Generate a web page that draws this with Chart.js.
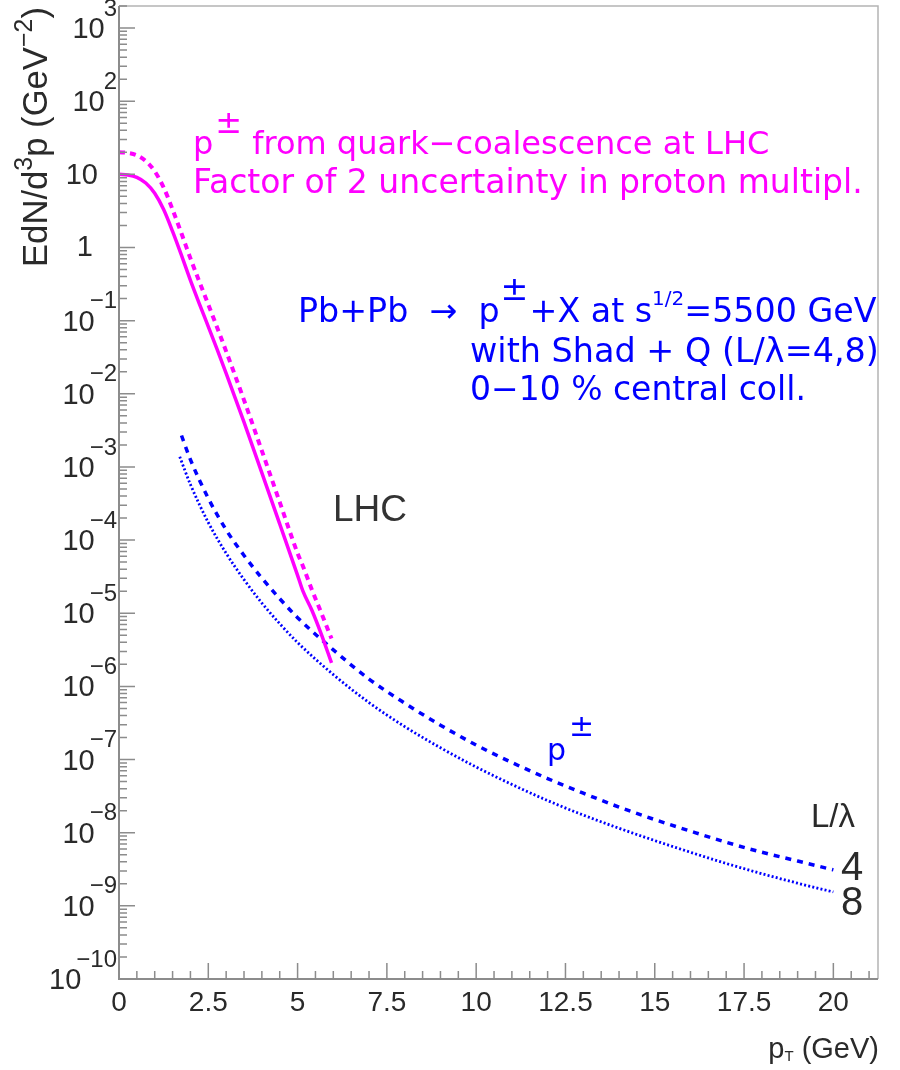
<!DOCTYPE html>
<html>
<head>
<meta charset="utf-8">
<script src="https://cdn.jsdelivr.net/npm/chart.js@4.4.1/dist/chart.umd.min.js"></script>
<style>
  html, body { margin: 0; padding: 0; background: #fff; }
  #wrap { width: 900px; height: 1070px; }
</style>
</head>
<body>
<div id="wrap"><canvas id="chart" width="900" height="1070"></canvas></div>
<script>
// Quark-coalescence p± spectrum (solid) and factor-2 upper band (dashed)
const ptCoal = [0, 0.25, 0.5, 0.75, 1.0, 1.25, 1.5, 1.75, 2.0, 2.25, 2.5, 2.75, 3.0, 3.5, 4.0, 4.5, 5.0, 5.15, 5.4, 5.65, 5.95];
const coalLow = [10, 9.8, 9.1, 7.6, 5.5, 3.3, 1.66, 0.78, 0.355, 0.17, 0.083, 0.040, 0.019, 4.1e-3, 8.3e-4, 1.66e-4, 3.3e-5, 2.0e-5, 1.1e-5, 5.4e-6, 2.1e-6];
const coalHigh = [20, 19.6, 18.2, 15.2, 11.0, 6.6, 3.3, 1.55, 0.71, 0.34, 0.166, 0.080, 0.038, 8.2e-3, 1.66e-3, 3.3e-4, 6.6e-5, 4.4e-5, 2.1e-5, 1.05e-5, 4.5e-6];

// Shad + Q (jet quenching) curves, L/lambda = 4 (dashed) and 8 (dotted)
const ptQ4 = [1.75, 2.0, 2.5, 3.0, 3.5, 4.0, 4.5, 5.0, 6, 7, 8, 9, 10, 11, 12, 13, 14, 15, 16, 17, 18, 19, 20];
const quenchL4 = [2.69e-3, 1.26e-3, 3.72e-4, 1.38e-4, 6.17e-5, 3.02e-5, 1.58e-5, 8.7e-6, 3.16e-6, 1.26e-6, 5.9e-7, 2.95e-7, 1.58e-7, 9.1e-8, 5.5e-8, 3.47e-8, 2.24e-8, 1.51e-8, 1.05e-8, 7.4e-9, 5.4e-9, 4.1e-9, 3.1e-9];
const ptQ8 = [1.7, 2.0, 2.5, 3.0, 3.5, 4.0, 4.5, 5.0, 6, 7, 8, 9, 10, 11, 12, 13, 14, 15, 16, 17, 18, 19, 20];
const quenchL8 = [1.38e-3, 5.75e-4, 1.74e-4, 6.6e-5, 2.88e-5, 1.38e-5, 7.2e-6, 3.98e-6, 1.45e-6, 6.0e-7, 2.82e-7, 1.45e-7, 7.9e-8, 4.57e-8, 2.75e-8, 1.74e-8, 1.15e-8, 7.8e-9, 5.4e-9, 3.8e-9, 2.75e-9, 2.04e-9, 1.55e-9];

// axis ticks
const xMajorTicks = [0, 2.5, 5, 7.5, 10, 12.5, 15, 17.5, 20];
const xTickLabels = ["0", "2.5", "5", "7.5", "10", "12.5", "15", "17.5", "20"];
const yDecades = [3, 2, 1, 0, -1, -2, -3, -4, -5, -6, -7, -8, -9, -10];

const MAGENTA = "#ff00ff";
const BLUE = "#0000ff";
const AXIS = "#8c8c8c";
const INK = "#2a2a2a";

const toPoints = (xs, ys) => xs.map((x, i) => ({ x: x, y: ys[i] }));

// draw pieces of text: [{t, scale, rise, gap}] starting at x on a baseline
function drawRich(ctx, pieces, x, y, size, family, color) {
  ctx.fillStyle = color;
  ctx.textAlign = "left";
  ctx.textBaseline = "alphabetic";
  let cx = x;
  pieces.forEach(p => {
    const s = size * (p.scale || 1);
    ctx.font = `${s}px ${family}`;
    ctx.fillText(p.t, cx, y - (p.rise || 0) * size);
    cx += ctx.measureText(p.t).width + (p.gap || 0);
  });
  return cx - x;
}

function richWidth(ctx, pieces, size, family) {
  let w = 0;
  pieces.forEach(p => {
    ctx.font = `${size * (p.scale || 1)}px ${family}`;
    w += ctx.measureText(p.t).width + (p.gap || 0);
  });
  return w;
}

// draws a rich line so that it spans x0..x1
function fitRich(ctx, pieces, x0, x1, y, family, color) {
  const w = richWidth(ctx, pieces, 20, family);
  const size = 20 * (x1 - x0) / w;
  drawRich(ctx, pieces, x0, y, size, family, color);
}

const decorPlugin = {
  id: "decor",
  afterDraw(chart) {
    const ctx = chart.ctx;
    const xs = chart.scales.x;
    const ys = chart.scales.y;
    const a = chart.chartArea;
    ctx.save();

    // frame
    ctx.strokeStyle = "#b4b4b4";
    ctx.lineWidth = 1.5;
    ctx.beginPath();
    ctx.moveTo(a.left, a.top);
    ctx.lineTo(a.right, a.top);
    ctx.lineTo(a.right, a.bottom);
    ctx.stroke();
    ctx.strokeStyle = AXIS;
    ctx.lineWidth = 2;
    ctx.beginPath();
    ctx.moveTo(a.left, a.top);
    ctx.lineTo(a.left, a.bottom);
    ctx.lineTo(a.right, a.bottom);
    ctx.stroke();

    // y ticks
    ctx.lineWidth = 1.5;
    ctx.beginPath();
    for (let n = -10; n <= 3; n++) {
      const yp = ys.getPixelForValue(Math.pow(10, n));
      ctx.moveTo(a.left, yp); ctx.lineTo(a.left + 16, yp);
      for (let k = 2; k <= 9; k++) {
        const v = k * Math.pow(10, n);
        if (v > ys.max) break;
        const ym = ys.getPixelForValue(v);
        ctx.moveTo(a.left, ym); ctx.lineTo(a.left + 8, ym);
      }
    }
    // x ticks
    for (let t = 0; t <= xs.max + 1e-6; t += 0.5) {
      const xp = xs.getPixelForValue(t);
      const major = Math.abs(t / 2.5 - Math.round(t / 2.5)) < 1e-6;
      ctx.moveTo(xp, a.bottom); ctx.lineTo(xp, a.bottom - (major ? 16 : 8));
    }
    ctx.stroke();

    const fam = "'Liberation Sans', Arial, sans-serif";

    // x tick labels
    ctx.fillStyle = INK;
    ctx.font = `28px ${fam}`;
    ctx.textAlign = "center";
    ctx.textBaseline = "middle";
    xMajorTicks.forEach((t, i) => {
      ctx.fillText(xTickLabels[i], xs.getPixelForValue(t), 1003);
    });

    // y tick labels
    yDecades.forEach(n => {
      const yp = ys.getPixelForValue(Math.pow(10, n));
      ctx.fillStyle = INK;
      ctx.textBaseline = "middle";
      ctx.textAlign = "right";
      if (n === 0) {
        ctx.font = `29px ${fam}`;
        ctx.fillText("1", 93, yp + 1);
      } else if (n === 1) {
        ctx.font = `29px ${fam}`;
        ctx.fillText("10", 98, yp + 2);
      } else {
        const sup = n < 0 ? "\u2212" + (-n) : String(n);
        ctx.font = `24px ${fam}`;
        const ws = ctx.measureText(sup).width;
        ctx.fillText(sup, 117, yp - 19);
        ctx.font = `29px ${fam}`;
        ctx.fillText("10", 117 - ws + (n < 0 ? 5 : 1), yp + 2);
      }
    });

    // y title (rotated)
    ctx.save();
    ctx.translate(47, 267);
    ctx.rotate(-Math.PI / 2);
    const yTitle = [
      { t: "EdN/d" },
      { t: "3", scale: 0.72, rise: 0.42 },
      { t: "p (GeV" },
      { t: "\u22122", scale: 0.72, rise: 0.42 },
      { t: ")" }
    ];
    const tw = richWidth(ctx, yTitle, 20, fam);
    drawRich(ctx, yTitle, 0, 0, 20 * 260 / tw, fam, INK);
    ctx.restore();

    // x title
    ctx.fillStyle = INK;
    ctx.textBaseline = "alphabetic";
    ctx.textAlign = "right";
    ctx.font = `29px ${fam}`;
    const gev = " (GeV)";
    const gw = ctx.measureText(gev).width;
    ctx.fillText(gev, 879, 1058);
    ctx.font = `15px ${fam}`;
    const tW = ctx.measureText("T").width;
    ctx.fillText("T", 879 - gw, 1061);
    ctx.font = `29px ${fam}`;
    ctx.fillText("p", 879 - gw - tW, 1058);

    // annotations
    const rnd = "'DejaVu Sans', sans-serif";
    fitRich(ctx, [
      { t: "p", gap: 2 },
      { t: "\u00b1", rise: 0.66, gap: 10 },
      { t: "from quark\u2212coalescence at LHC" }
    ], 193, 777, 154, rnd, MAGENTA);
    fitRich(ctx, [{ t: "Factor of 2 uncertainty in proton multipl." }], 193, 863, 193, rnd, MAGENTA);

    fitRich(ctx, [
      { t: "Pb+Pb  \u2192  p", gap: 1 },
      { t: "\u00b1", rise: 0.66, gap: 1 },
      { t: "+X at s" },
      { t: "1/2", scale: 0.6, rise: 0.5 },
      { t: "=5500 GeV" }
    ], 298, 878, 322, rnd, BLUE);
    fitRich(ctx, [{ t: "with Shad + Q (L/\u03bb=4,8)" }], 470, 879, 362, rnd, BLUE);
    fitRich(ctx, [{ t: "0\u221210 % central coll." }], 470, 806, 400, rnd, BLUE);

    ctx.fillStyle = "#333";
    ctx.textAlign = "left";
    ctx.textBaseline = "alphabetic";
    ctx.font = `37px ${fam}`;
    ctx.fillText("LHC", 333, 521);

    drawRich(ctx, [
      { t: "p", gap: 3 },
      { t: "\u00b1", rise: 0.8 }
    ], 547, 760, 30, rnd, BLUE);

    ctx.fillStyle = INK;
    ctx.font = `33px ${fam}`;
    ctx.fillText("L/\u03bb", 811, 827);
    ctx.font = `40px ${fam}`;
    ctx.fillText("4", 841, 880);
    ctx.fillText("8", 841, 915);

    ctx.restore();
  }
};

new Chart(document.getElementById("chart"), {
  type: "line",
  data: {
    datasets: [
      {
        label: "coalescence",
        data: toPoints(ptCoal, coalLow),
        borderColor: MAGENTA,
        borderWidth: 3.5,
        cubicInterpolationMode: "monotone",
        pointRadius: 0
      },
      {
        label: "coalescence x2",
        data: toPoints(ptCoal, coalHigh),
        borderColor: MAGENTA,
        borderWidth: 4,
        borderDash: [6, 5],
        cubicInterpolationMode: "monotone",
        pointRadius: 0
      },
      {
        label: "L/lambda=4",
        data: toPoints(ptQ4, quenchL4),
        borderColor: BLUE,
        borderWidth: 3.5,
        borderDash: [6, 6],
        cubicInterpolationMode: "monotone",
        pointRadius: 0
      },
      {
        label: "L/lambda=8",
        data: toPoints(ptQ8, quenchL8),
        borderColor: BLUE,
        borderWidth: 2.8,
        borderDash: [2, 2.2],
        cubicInterpolationMode: "monotone",
        pointRadius: 0
      }
    ]
  },
  options: {
    responsive: false,
    animation: false,
    layout: { padding: { top: 6, right: 22, left: 0, bottom: 0 } },
    plugins: { legend: { display: false }, tooltip: { enabled: false } },
    scales: {
      x: {
        type: "linear",
        min: 0,
        max: 21.25,
        grid: { display: false },
        border: { display: false },
        ticks: { display: false },
        afterFit(scale) { scale.height = 91; }
      },
      y: {
        type: "logarithmic",
        min: 1e-10,
        max: 2000,
        grid: { display: false },
        border: { display: false },
        ticks: { display: false },
        afterFit(scale) { scale.width = 119; }
      }
    }
  },
  plugins: [decorPlugin]
});
</script>
</body>
</html>
